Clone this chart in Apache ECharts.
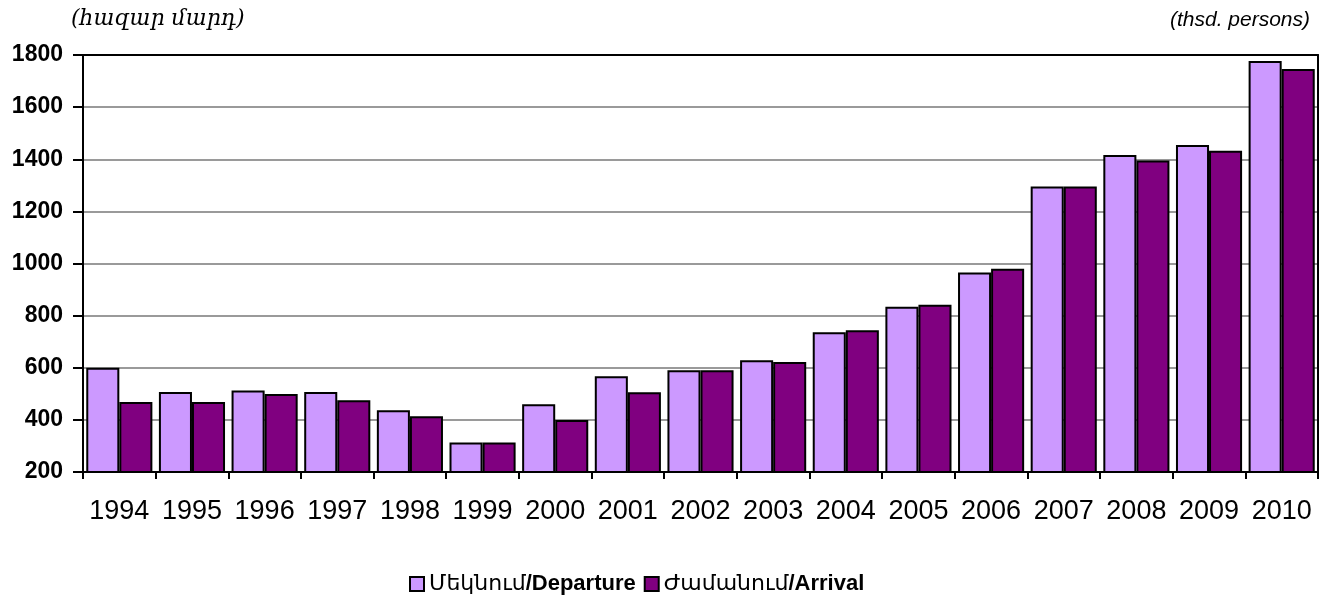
<!DOCTYPE html>
<html>
<head>
<meta charset="utf-8">
<script src="https://cdn.jsdelivr.net/npm/echarts@6/dist/echarts.min.js"></script>
<style>
  html, body { margin: 0; padding: 0; background: #fff; }
  #chart { width: 1325px; height: 603px; }
</style>
</head>
<body>
<div id="chart"></div>
<script>
var years = ['1994', '1995', '1996', '1997', '1998', '1999', '2000', '2001', '2002',
  '2003', '2004', '2005', '2006', '2007', '2008', '2009', '2010'];
var departure = [600, 507, 513, 507, 437, 313, 460, 567, 590, 629, 736, 834, 965, 1295, 1416, 1455, 1777];
var arrival = [469, 469, 499, 475, 414, 313, 400, 506, 590, 622, 744, 842, 980, 1295, 1395, 1433, 1746];
var yTicks = [200, 1800, 200];

var chart = echarts.init(document.getElementById('chart'));

var frameLine = { show: true, lineStyle: { color: '#000', width: 2 } };

chart.setOption({
  animation: false,
  textStyle: { fontFamily: 'Liberation Sans, Arial, sans-serif', color: '#000' },
  graphic: [
    {
      type: 'text', left: 71, top: 8,
      style: { text: '(հազար մարդ)', font: 'italic 22px "DejaVu Serif", serif', fill: '#000' }
    },
    {
      type: 'text', right: 15, top: 10,
      style: { text: '(thsd. persons)', font: 'italic 21px "Liberation Sans", Arial, sans-serif', fill: '#000' }
    }
  ],
  grid: {
    left: 83, right: 7, top: 55, bottom: 131
  },
  legend: {
    top: 568, left: 404,
    itemWidth: 14, itemHeight: 14, itemGap: 8, icon: 'rect',
    data: ['Մեկնում/Departure', 'Ժամանում/Arrival'],
    formatter: function (name) {
      var p = name.split('/');
      return '{a|' + p[0] + '}{b|/' + p[1] + '}';
    },
    textStyle: {
      rich: {
        a: { fontFamily: 'DejaVu Sans, sans-serif', fontSize: 22, color: '#000' },
        b: { fontFamily: 'Liberation Sans, Arial, sans-serif', fontSize: 22, fontWeight: 'bold', color: '#000' }
      }
    }
  },
  xAxis: [
    {
      type: 'category',
      data: years,
      boundaryGap: true,
      axisLine: frameLine,
      axisTick: { show: true, alignWithLabel: false, length: 7, lineStyle: { color: '#000', width: 2 } },
      axisLabel: { fontSize: 27, color: '#000', margin: 26, interval: 0 }
    },
    {
      type: 'category',
      data: years,
      position: 'top',
      axisLine: frameLine,
      axisTick: { show: false },
      axisLabel: { show: false }
    }
  ],
  yAxis: [
    {
      type: 'value',
      min: yTicks[0], max: yTicks[1], interval: yTicks[2],
      axisLine: frameLine,
      axisTick: { show: true, length: 10, lineStyle: { color: '#000', width: 2 } },
      axisLabel: {
        fontSize: 23, fontWeight: 'bold', color: '#000', margin: 20,
        formatter: function (v) { return String(v); }
      },
      splitLine: { lineStyle: { color: '#9a9a9a', width: 2 } }
    },
    {
      type: 'value',
      position: 'right',
      min: yTicks[0], max: yTicks[1], interval: yTicks[2],
      axisLine: frameLine,
      axisTick: { show: false },
      axisLabel: { show: false },
      splitLine: { show: false }
    }
  ],
  series: [
    {
      name: 'Մեկնում/Departure',
      type: 'bar',
      data: departure,
      barGap: '0%',
      barCategoryGap: '9%',
      itemStyle: { color: '#CC99FF', borderColor: '#000', borderWidth: 2 }
    },
    {
      name: 'Ժամանում/Arrival',
      type: 'bar',
      data: arrival,
      barGap: '0%',
      barCategoryGap: '9%',
      itemStyle: { color: '#800080', borderColor: '#000', borderWidth: 2 }
    }
  ]
});
</script>
</body>
</html>
